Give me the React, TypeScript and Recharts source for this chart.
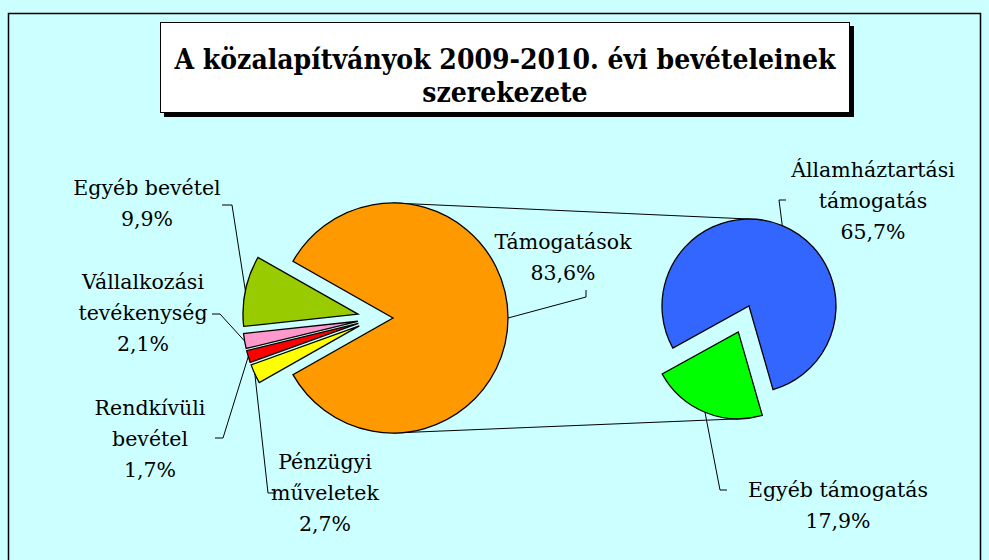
import React from 'react';
import { PieChart, Pie, Cell } from 'recharts';

// ---- data ----
const mainNames = ['Támogatások', 'Egyéb bevétel', 'Vállalkozási tevékenység', 'Rendkívüli bevétel', 'Pénzügyi műveletek'];
const mainValues = [83.6, 9.9, 2.1, 1.7, 2.7];
const mainLabelLines = [
  ['Támogatások', '83,6%'],
  ['Egyéb bevétel', '9,9%'],
  ['Vállalkozási', 'tevékenység', '2,1%'],
  ['Rendkívüli', 'bevétel', '1,7%'],
  ['Pénzügyi', 'műveletek', '2,7%'],
];
const subNames = ['Egyéb támogatás', 'Államháztartási támogatás'];
const subValues = [17.9, 65.7];
const subLabelLines = [
  ['Egyéb támogatás', '17,9%'],
  ['Államháztartási', 'támogatás', '65,7%'],
];
const titleLines = ['A közalapítványok 2009-2010. évi bevételeinek', 'szerekezete'];

// ---- styles / layout ----
const mainColors = ['#FF9900', '#99CC00', '#FF99CC', '#FF0000', '#FFFF00'];
const subColors = ['#00FF00', '#3366FF'];
const BG = '#CCFFFF';
const LABEL_FONT = '"DejaVu Serif", serif';
const LABEL_SIZE = 20.5;
const LINE_GAP = 31;

const MAIN = { cx: 393, cy: 318, r: 115, groupShift: -16.4, explode: 19 };
const SUB = { cx: 749, cy: 306, r: 87, explode: 28, centerAngle: 247.5 };

// label positions: text centre x, first line centre y, elbow point, tick end
const mainLabelPos = [
  { x: 563, y: 242, ex: 586, ey: 297, tx: 586, ty: 290 },
  { x: 147, y: 188, ex: 232, ey: 205, tx: 222, ty: 205 },
  { x: 143, y: 282, ex: 220, ey: 314, tx: 212, ty: 314 },
  { x: 150, y: 408, ex: 223, ey: 438, tx: 215, ty: 438 },
  { x: 325, y: 462, ex: 268, ey: 493, tx: 276, ty: 493 },
];
const subLabelPos = [
  { x: 838, y: 490, ex: 720, ey: 490, tx: 727, ty: 490 },
  { x: 873, y: 170, ex: 779, ey: 200, tx: 786, ty: 200 },
];

const RAD = Math.PI / 180;
const polar = (cx: number, cy: number, r: number, a: number) => ({
  x: cx + r * Math.cos(-a * RAD),
  y: cy + r * Math.sin(-a * RAD),
});

function sectorAngles(values: number[], start: number) {
  const total = values.reduce((s, v) => s + v, 0);
  let acc = start;
  return values.map((v) => {
    const s = acc;
    const e = acc + (360 * v) / total;
    acc = e;
    return { s, e, mid: (s + e) / 2 };
  });
}

const mainTotal = mainValues.reduce((s, v) => s + v, 0);
const mainStart = (-180 * mainValues[0]) / mainTotal;
const mainAngles = sectorAngles(mainValues, mainStart);
const subTotal = subValues.reduce((s, v) => s + v, 0);
const subStart = SUB.centerAngle - (180 * subValues[0]) / subTotal;
const subAngles = sectorAngles(subValues, subStart);

const mainData = mainNames.map((name, i) => ({ name, value: mainValues[i] }));
const subData = subNames.map((name, i) => ({ name, value: subValues[i] }));

const mainOffsets = mainAngles.map((a, i) =>
  i === 0
    ? { dx: 0, dy: 0 }
    : { dx: MAIN.groupShift + MAIN.explode * Math.cos(a.mid * RAD), dy: -MAIN.explode * Math.sin(a.mid * RAD) }
);
const subOffsets = subAngles.map((a, i) =>
  i === 0 ? { dx: SUB.explode * Math.cos(a.mid * RAD), dy: -SUB.explode * Math.sin(a.mid * RAD) } : { dx: 0, dy: 0 }
);

const makeLabel = (visibleIdx: number, lines: string[], pos: any) => (props: any) => {
  if (props.index !== visibleIdx) return null;
  const { cx, cy, outerRadius, midAngle } = props;
  const p = polar(cx, cy, outerRadius, midAngle);
  return (
    <g>
      <polyline
        points={`${p.x},${p.y} ${pos.ex},${pos.ey} ${pos.tx},${pos.ty}`}
        fill="none"
        stroke="#000"
        strokeWidth={1}
      />
      {lines.map((l, k) => (
        <text
          key={k}
          x={pos.x}
          y={pos.y + k * LINE_GAP}
          textAnchor="middle"
          dominantBaseline="central"
          fontFamily={LABEL_FONT}
          fontSize={LABEL_SIZE}
          fill="#000"
        >
          {l}
        </text>
      ))}
    </g>
  );
};

export default function App() {
  const subTopX = SUB.cx + subOffsets[1].dx;
  const subTopY = SUB.cy + subOffsets[1].dy - SUB.r;
  const subBotX = SUB.cx + subOffsets[0].dx;
  const subBotY = SUB.cy + subOffsets[0].dy + SUB.r;
  return (
    <div style={{ position: 'fixed', left: 0, top: 0, width: 989, height: 560, background: BG, overflow: 'hidden' }}>
      <svg width={989} height={560} style={{ position: 'absolute', left: 0, top: 0 }}>
        <rect x={8.5} y={13.5} width={972} height={620} fill="none" stroke="#000" strokeWidth={1.5} />
        <line x1={MAIN.cx} y1={MAIN.cy - MAIN.r} x2={subTopX} y2={subTopY} stroke="#000" strokeWidth={1} />
        <line x1={MAIN.cx} y1={MAIN.cy + MAIN.r} x2={subBotX} y2={subBotY} stroke="#000" strokeWidth={1} />
      </svg>
      <div style={{ position: 'absolute', left: 0, top: 0 }}>
        <PieChart width={989} height={560} margin={{ top: 0, right: 0, bottom: 0, left: 0 }}>
          {mainData.map((_, k) => (
            <Pie
              key={`m${k}`}
              data={mainData}
              dataKey="value"
              nameKey="name"
              cx={MAIN.cx + mainOffsets[k].dx}
              cy={MAIN.cy + mainOffsets[k].dy}
              outerRadius={MAIN.r}
              startAngle={mainStart}
              endAngle={mainStart + 360}
              isAnimationActive={false}
              labelLine={false}
              label={makeLabel(k, mainLabelLines[k], mainLabelPos[k])}
            >
              {mainData.map((d, i) => (
                <Cell
                  key={d.name}
                  fill={i === k ? mainColors[i] : 'none'}
                  stroke={i === k ? '#000' : 'none'}
                  strokeWidth={1.3}
                />
              ))}
            </Pie>
          ))}
          {subData.map((_, k) => (
            <Pie
              key={`s${k}`}
              data={subData}
              dataKey="value"
              nameKey="name"
              cx={SUB.cx + subOffsets[k].dx}
              cy={SUB.cy + subOffsets[k].dy}
              outerRadius={SUB.r}
              startAngle={subStart}
              endAngle={subStart + 360}
              isAnimationActive={false}
              labelLine={false}
              label={makeLabel(k, subLabelLines[k], subLabelPos[k])}
            >
              {subData.map((d, i) => (
                <Cell
                  key={d.name}
                  fill={i === k ? subColors[i] : 'none'}
                  stroke={i === k ? '#000' : 'none'}
                  strokeWidth={1.3}
                />
              ))}
            </Pie>
          ))}
        </PieChart>
      </div>
      <div
        style={{
          position: 'absolute',
          left: 160,
          top: 22,
          width: 690,
          height: 91,
          background: '#fff',
          border: '1px solid #000',
          boxShadow: '4px 4px 0 #000',
          fontFamily: '"DejaVu Serif Condensed", "DejaVu Serif", serif',
          fontStretch: 'condensed',
          fontWeight: 'bold',
          fontSize: 28,
          lineHeight: '33px',
          textAlign: 'center',
          paddingTop: 20,
          boxSizing: 'border-box',
          color: '#000',
          whiteSpace: 'nowrap',
        }}
      >
        {titleLines.map((t, i) => (
          <div key={i}>{t}</div>
        ))}
      </div>
    </div>
  );
}
